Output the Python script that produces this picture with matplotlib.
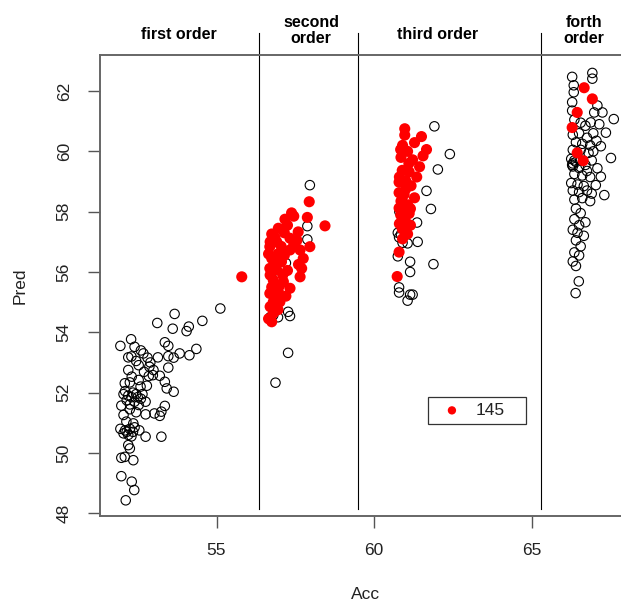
import matplotlib
matplotlib.use("Agg")
import matplotlib.pyplot as plt
import numpy as np

plt.rcParams['font.family'] = ['Liberation Sans', 'DejaVu Sans']

# (Acc, Pred) pairs, one list per order group
first_black = [
    (55.12, 54.79), (53.67, 54.61), (54.55, 54.38), (53.12, 54.31), (53.61, 54.12), (54.12, 54.19), (54.05, 54.04),
    (52.29, 53.77), (51.95, 53.55), (52.40, 53.52), (53.36, 53.67), (53.47, 53.55), (54.36, 53.45), (53.83, 53.30),
    (54.14, 53.24), (52.20, 53.17), (52.68, 53.30), (52.81, 53.16), (53.14, 53.17), (53.47, 53.21), (53.64, 53.16),
    (52.53, 52.91), (52.87, 52.86), (52.70, 52.69), (53.47, 52.83), (52.98, 52.58), (53.20, 52.56), (52.31, 52.53),
    (52.53, 52.42), (52.25, 52.34), (52.59, 52.20), (52.09, 52.31), (53.36, 52.36), (53.42, 52.14), (53.64, 52.03),
    (52.79, 52.23), (52.30, 53.20), (52.45, 53.05), (52.90, 53.00), (53.00, 52.75), (52.60, 53.40),
    (52.05, 51.95), (52.20, 51.90), (52.35, 52.00), (52.50, 51.85), (52.65, 51.95), (52.15, 51.75), (52.40, 51.70),
    (52.60, 51.80), (52.30, 51.85), (52.75, 51.70), (51.98, 51.57), (52.25, 51.61), (52.53, 51.59), (52.75, 51.28),
    (53.03, 51.31), (53.20, 51.23), (53.36, 51.56), (53.25, 51.37), (52.05, 51.26), (52.14, 51.04), (52.36, 50.98),
    (51.95, 50.80), (52.10, 50.75), (52.25, 50.80), (52.40, 50.85), (52.55, 50.75), (52.05, 50.65), (52.20, 50.60),
    (52.35, 50.70), (52.30, 50.55), (52.15, 50.70), (52.75, 50.54), (53.25, 50.54), (52.20, 50.26), (52.25, 50.15),
    (51.98, 49.84), (52.09, 49.87), (52.36, 49.76), (51.98, 49.23), (52.31, 49.05), (52.39, 48.77), (52.12, 48.43),
    (52.45, 51.95), (52.25, 51.45), (52.45, 51.35), (52.10, 52.05), (52.85, 52.55), (52.20, 52.75),
]
second_black = [
    (57.96, 58.88), (57.88, 57.52), (57.88, 57.08), (57.27, 54.68), (57.33, 54.54), (56.80, 54.57),
    (57.27, 53.32), (56.87, 52.33), (56.70, 54.50), (57.00, 55.80), (57.20, 56.30), (56.95, 54.50),
]
second_red = [
    (55.80, 55.84), (57.94, 58.33), (58.44, 57.53), (57.88, 57.81), (57.38, 57.96), (57.17, 57.75), (56.96, 57.45),
    (56.75, 57.26), (57.59, 57.33), (57.96, 56.84), (56.69, 56.84), (56.91, 57.00), (57.33, 57.12), (57.33, 56.73),
    (57.65, 56.73), (57.75, 56.45), (56.75, 56.45), (57.06, 56.34), (56.69, 56.12), (56.91, 56.07), (57.70, 56.12),
    (57.65, 55.84), (56.80, 55.73), (57.12, 55.68), (57.33, 55.46), (56.96, 55.35), (56.69, 55.29), (56.80, 55.01),
    (57.01, 55.01), (56.80, 54.63), (56.75, 54.35), (57.45, 57.85), (57.25, 57.55), (56.85, 57.15), (56.70, 57.00),
    (57.05, 56.85), (56.65, 56.60), (56.85, 56.30), (57.15, 56.55), (57.45, 56.90), (57.55, 57.05), (56.70, 55.90),
    (57.00, 55.55), (56.75, 55.50), (57.20, 55.20), (56.90, 55.15), (56.70, 54.85), (56.95, 54.75), (56.65, 54.45),
    (57.10, 55.90), (57.25, 56.05), (57.60, 56.25), (56.95, 56.60), (57.15, 57.30),
]
third_black = [
    (61.91, 60.83), (62.40, 59.91), (62.02, 59.40), (61.66, 58.69), (61.80, 58.09), (61.36, 57.64), (61.38, 57.00),
    (60.79, 57.15), (60.90, 56.97), (61.06, 56.95), (60.75, 56.52), (61.14, 56.34), (61.88, 56.26), (61.14, 56.00),
    (60.79, 55.49), (60.79, 55.32), (61.14, 55.25), (61.22, 55.25), (61.06, 55.05), (60.75, 57.30), (60.85, 57.25),
    (60.80, 58.00), (60.90, 58.30),
]
third_red = [
    (60.97, 60.75), (60.97, 60.54), (61.50, 60.49), (61.28, 60.29), (61.66, 60.06), (61.55, 59.85), (60.84, 60.06),
    (61.06, 60.00), (61.22, 59.72), (61.44, 59.49), (60.89, 59.37), (61.11, 59.32), (60.79, 58.98), (61.00, 59.03),
    (61.17, 58.86), (60.79, 58.63), (60.95, 58.57), (61.28, 58.46), (61.06, 58.23), (60.79, 58.12), (60.84, 57.89),
    (61.11, 57.94), (61.00, 57.66), (60.89, 57.43), (61.06, 57.26), (60.79, 56.66), (60.73, 55.85), (60.85, 59.80),
    (61.10, 59.60), (60.80, 59.15), (61.00, 58.75), (60.85, 58.35), (61.15, 58.10), (60.95, 58.00), (60.80, 57.60),
    (61.15, 57.55), (60.90, 57.10), (61.35, 59.15), (60.90, 60.20),
]
forth_black = [
    (66.92, 62.60), (66.92, 62.41), (66.28, 62.47), (66.33, 62.19), (66.33, 61.96), (66.28, 61.63), (67.08, 61.52),
    (67.60, 61.07), (66.98, 61.29), (67.24, 61.29), (66.28, 61.35), (66.87, 60.96), (67.14, 60.90), (67.35, 60.62),
    (67.19, 60.17), (67.51, 59.78), (66.35, 61.05), (66.55, 60.95), (66.70, 60.85), (66.30, 60.55), (66.50, 60.60),
    (66.75, 60.45), (66.95, 60.60), (66.40, 60.30), (66.60, 60.25), (66.85, 60.20), (67.05, 60.35), (66.30, 60.05),
    (66.55, 60.05), (66.80, 59.95), (66.95, 60.00), (66.25, 59.75), (66.40, 59.65), (66.55, 59.70), (66.70, 59.55),
    (66.90, 59.70), (66.30, 59.50), (66.50, 59.45), (66.75, 59.35), (66.35, 59.25), (66.60, 59.20), (66.85, 59.15),
    (67.08, 59.44), (67.19, 59.16), (67.03, 58.88), (67.30, 58.55), (66.25, 58.95), (66.45, 58.90), (66.65, 58.85),
    (66.30, 58.70), (66.50, 58.65), (66.75, 58.70), (66.90, 58.60), (66.35, 58.40), (66.60, 58.45), (66.85, 58.35),
    (66.40, 58.10), (66.55, 57.95), (66.35, 57.75), (66.50, 57.55), (66.70, 57.65), (66.30, 57.40), (66.45, 57.30),
    (66.65, 57.20), (66.40, 57.05), (66.55, 56.85), (66.35, 56.65), (66.50, 56.55), (66.30, 56.35), (66.40, 56.20),
    (66.49, 55.69), (66.39, 55.30), (66.30, 59.60), (66.35, 59.70), (66.28, 59.55),
]
forth_red = [(66.66, 62.11), (66.92, 61.74), (66.44, 61.29), (66.28, 60.79), (66.44, 59.95), (66.63, 59.69)]

boundaries = [56.36, 59.48, 65.28]
order_labels = ["first order", "second\norder", "third order", "forth\norder"]
order_centers = [53.8, 58.0, 62.0, 66.65]
legend_label = "145"

black = np.array(first_black + second_black + third_black + forth_black)
red = np.array(second_red + third_red + forth_red)

fig = plt.figure(figsize=(6.21, 6.05), dpi=100)
ax = fig.add_axes([100.2 / 621, (605 - 515.7) / 605, 538.8 / 621, 460.7 / 605])

ax.scatter(black[:, 0], black[:, 1], s=46, facecolors='none', edgecolors='black', linewidths=0.8)
ax.scatter(red[:, 0], red[:, 1], s=64, color='red', edgecolors='none', label=legend_label)

for b in boundaries:
    ax.plot([b, b], [48.14, 63.93], color='black', lw=0.8, clip_on=False)
for lab, cx in zip(order_labels, order_centers):
    ty = 64.02 if '\n' in lab else 63.86
    ax.text(cx, ty, lab, ha='center', va='center', fontsize=11.5, fontweight='bold',
            linespacing=1.1, clip_on=False)

ax.set_xlim(51.31, 68.40)
ax.set_ylim(47.92, 63.195)
ax.set_xticks([55, 60, 65])
ax.set_yticks(np.arange(48, 63, 2))
ax.tick_params(axis='both', length=8.5, width=1.0, color='#555555', labelcolor='#222222', labelsize=12.5)
ax.tick_params(axis='x', pad=11)
ax.tick_params(axis='y', pad=12)
for lab in ax.get_yticklabels():
    lab.set_rotation(90)
    lab.set_va('center')
for side in ['left', 'top', 'bottom', 'right']:
    ax.spines[side].set_color('#666666')
    ax.spines[side].set_linewidth(1.4)

ax.set_xlabel('Acc', fontsize=12.5, color='#222222')
ax.set_ylabel('Pred', fontsize=12.5, color='#222222')
ax.xaxis.set_label_coords((366 - 100.2) / 538.8, -(587 - 515.7) / 460.7)
ax.yaxis.set_label_coords(-(100.2 - 28) / 538.8, 0.5)

leg = ax.legend(loc='upper left', bbox_to_anchor=(0.6093, 0.0, 0.181, 0.2583), mode='expand',
                frameon=True, fancybox=False, fontsize=12.5, markerscale=0.75, handletextpad=0.35,
                borderpad=0.35, handlelength=2.0, borderaxespad=0)
leg.get_frame().set_edgecolor('black')
leg.get_frame().set_linewidth(0.9)
for t in leg.get_texts():
    t.set_color('#222222')

fig.savefig('out.png', dpi=100)
